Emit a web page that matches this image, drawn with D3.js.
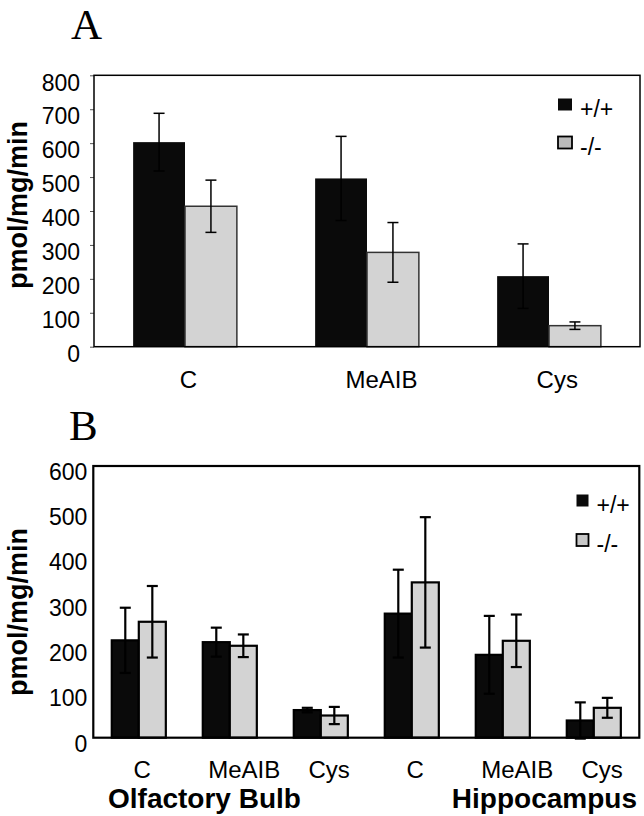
<!DOCTYPE html>
<html><head><meta charset="utf-8">
<script src="https://cdn.jsdelivr.net/npm/d3@7"></script>
<style>
body{margin:0;background:#fff}
text{font-family:"Liberation Sans",Arial,Helvetica,sans-serif;fill:#000}
</style></head>
<body><svg id="c" width="644" height="816"></svg>
<script>
// ---------- data ----------
const series = ["+/+", "-/-"];
const catsA = ["C", "MeAIB", "Cys"];
const wtA = [603, 496, 208];
const wtAerr = [85, 124, 95];
const koA = [414, 278, 62];
const koAerr = [77, 88, 11];
const ticksA = [0, 100, 200, 300, 400, 500, 600, 700, 800];

const catsB = ["C", "MeAIB", "Cys", "C", "MeAIB", "Cys"];
const regionsB = ["Olfactory Bulb", "Hippocampus"];
const wtB = [215, 211, 61, 274, 183, 38];
const wtBerr = [72, 32, 5, 97, 86, 40];
const koB = [256, 203, 49, 343, 214, 66];
const koBerr = [79, 25, 19, 144, 58, 22];
const ticksB = [0, 100, 200, 300, 400, 500, 600];

const yTitle = "pmol/mg/min";

// ---------- drawing ----------
const svg = d3.select("#c");
const colors = {"+/+": "#0a0a0a", "-/-": "#d3d3d3"};

function panel(o) {
  const g = svg.append("g");
  const x0 = d3.scaleBand().domain(d3.range(o.cats.length))
    .range([o.left, o.right]).paddingInner(o.pin).paddingOuter(o.pin / 2);
  const x1 = d3.scaleBand().domain(series).range([0, x0.bandwidth()]);
  const y = d3.scaleLinear().domain([0, o.max]).range([o.bottom, o.top]);

  const rows = [];
  o.cats.forEach((c, i) => {
    rows.push({i, s: "+/+", v: o.wt[i], e: o.wtErr[i]});
    rows.push({i, s: "-/-", v: o.ko[i], e: o.koErr[i]});
  });

  // bars
  g.selectAll("rect.bar").data(rows).join("rect").attr("class", "bar")
    .attr("x", d => x0(d.i) + x1(d.s))
    .attr("y", d => y(d.v))
    .attr("width", x1.bandwidth())
    .attr("height", d => y(0) - y(d.v))
    .attr("fill", d => colors[d.s])
    .attr("stroke", d => d.s === "-/-" ? o.barStroke : (o.blackStroke ? o.barStroke : "none"))
    .attr("stroke-width", o.barSW);

  // error bars
  const eg = g.selectAll("g.err").data(rows).join("g").attr("class", "err")
    .attr("stroke", "#000").attr("stroke-width", o.errSW);
  const cx = d => x0(d.i) + x1(d.s) + x1.bandwidth() / 2;
  eg.append("line").attr("x1", cx).attr("x2", cx)
    .attr("y1", d => y(d.v - d.e)).attr("y2", d => y(d.v + d.e));
  eg.append("line").attr("x1", d => cx(d) - o.cap / 2).attr("x2", d => cx(d) + o.cap / 2)
    .attr("y1", d => y(d.v + d.e)).attr("y2", d => y(d.v + d.e));
  eg.append("line").attr("x1", d => cx(d) - o.cap / 2).attr("x2", d => cx(d) + o.cap / 2)
    .attr("y1", d => y(d.v - d.e)).attr("y2", d => y(d.v - d.e));

  // y axis
  const ax = g.append("g").attr("transform", `translate(${o.left},0)`)
    .call(d3.axisLeft(y).tickValues(o.ticks).tickSize(o.tickSize).tickPadding(o.tickPad));
  ax.select(".domain").remove();
  ax.selectAll(".tick line").attr("stroke", "#555").attr("stroke-width", 1);
  ax.selectAll(".tick text").attr("font-size", 23).attr("font-family", '"Liberation Sans",Arial,sans-serif')
    .attr("dy", o.labelDy).attr("fill", "#000");

  // frame
  g.append("rect").attr("x", o.left).attr("y", o.top)
    .attr("width", o.right - o.left).attr("height", o.bottom - o.top)
    .attr("fill", "none").attr("stroke", "#000").attr("stroke-width", o.frameSW);

  // category labels (visually offset like the source)
  g.selectAll("text.cat").data(o.cats).join("text").attr("class", "cat")
    .attr("font-size", 24).attr("y", o.catY)
    .text(d => d)
    .attr("x", function(d, i) {
      const w = this.getComputedTextLength();
      return x0(i) + x0.bandwidth() / 2 - 0.3 * w;
    });

  // legend
  const lg = g.append("g");
  series.forEach((s, k) => {
    const yy = o.legY + k * o.legGap;
    lg.append("rect").attr("x", o.legX).attr("y", yy)
      .attr("width", o.legW).attr("height", o.legH)
      .attr("fill", k === 0 ? "#0a0a0a" : o.legGray)
      .attr("stroke", "#000").attr("stroke-width", k === 0 ? 0 : 1.8);
    lg.append("text").attr("x", o.legX + o.legW + 8).attr("y", yy + o.legH / 2 + 12)
      .attr("font-size", 23).text(s);
  });

  // y title
  svg.append("text").attr("transform", `translate(27,${o.titleY}) rotate(-90)`)
    .attr("text-anchor", "middle").attr("font-size", 27).attr("font-weight", "bold")
    .text(yTitle);

  // panel letter
  svg.append("text").attr("x", o.letX).attr("y", o.letY)
    .style("font-family", '"Liberation Serif","Times New Roman",serif')
    .attr("font-size", 43).text(o.letter);
  return {x0, y};
}

panel({
  cats: catsA, wt: wtA, wtErr: wtAerr, ko: koA, koErr: koAerr, ticks: ticksA, max: 800,
  left: 94, right: 640, top: 75.3, bottom: 346.7, pin: 0.43,
  barStroke: "#333", blackStroke: false, barSW: 1.5, errSW: 1.5, cap: 11,
  tickSize: 4, tickPad: 10, labelDy: "0.64em", frameSW: 1.5,
  catY: 388, legX: 558, legY: 98.5, legGap: 38, legW: 14, legH: 12, legGray: "#bcbcbc",
  letX: 71, letY: 39, letter: "A", titleY: 205
});

panel({
  cats: catsB, wt: wtB, wtErr: wtBerr, ko: koB, koErr: koBerr, ticks: ticksB, max: 600,
  left: 93.3, right: 639.3, top: 466, bottom: 737.7, pin: 0.406,
  barStroke: "#000", blackStroke: true, barSW: 2.2, errSW: 2.2, cap: 11,
  tickSize: 0, tickPad: 6, labelDy: "0.58em", frameSW: 2.2,
  catY: 777.5, legX: 576.5, legY: 494.5, legGap: 39.5, legW: 12, legH: 12, legGray: "#c8c8c8",
  letX: 69, letY: 440, letter: "B", titleY: 612
});

// region labels
svg.append("text").attr("x", 108).attr("y", 808).attr("font-size", 28)
  .attr("font-weight", "bold").text(regionsB[0]);
svg.append("text").attr("x", 637).attr("y", 808).attr("font-size", 28)
  .attr("text-anchor", "end").attr("font-weight", "bold").text(regionsB[1]);
</script>
</body></html>
